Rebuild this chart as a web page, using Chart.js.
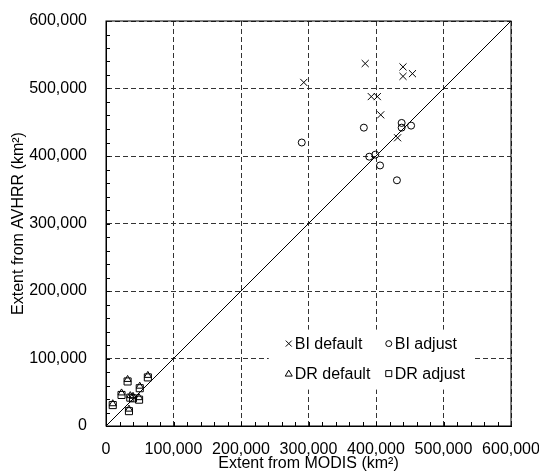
<!DOCTYPE html>
<html>
<head>
<meta charset="utf-8">
<script src="https://cdn.jsdelivr.net/npm/chart.js@4"></script>
<style>
  html, body { margin: 0; padding: 0; background: #fff; }
  #wrap { width: 539px; height: 472px; }
</style>
</head>
<body>
<div id="wrap"><canvas id="chart" width="539" height="472"></canvas></div>
<script>
// ==================== DATA ====================
const biDefaultX = [384000, 440000, 440000, 454000, 293000, 393000, 402000, 407000, 432000];
const biDefaultY = [537000, 532000, 518000, 522000, 509000, 488000, 488000, 461000, 427000];

const biAdjustX = [382000, 290000, 438000, 438000, 452000, 390000, 399000, 406000, 431000];
const biAdjustY = [442000, 420000, 449000, 442000, 445000, 399000, 402000, 386000, 364000];

const drDefaultX = [10000, 32000, 23000, 62000, 50000, 36000, 40000, 49000, 34000];
const drDefaultY = [33000, 69000, 49000, 75000, 59000, 45000, 44000, 42000, 25000];

const drAdjustX = [10000, 32000, 23000, 62000, 50000, 36000, 40000, 49000, 34000];
const drAdjustY = [31000, 66000, 46000, 72000, 56000, 42000, 41000, 39000, 22000];

const oneToOne = [0, 600000];
const axisTicks = [0, 100000, 200000, 300000, 400000, 500000, 600000];

const seriesNames = ["BI default", "BI adjust", "DR default", "DR adjust"];

const FONT = "'Liberation Sans', Arial, sans-serif";

function pts(xs, ys) {
  return xs.map((x, i) => ({ x: x, y: ys[i] }));
}

// ==================== PLUGINS ====================
// box around the plot + inward minor ticks on left and bottom
const frame = {
  id: "frame",
  afterDraw(chart) {
    const { ctx, chartArea: a, scales } = chart;
    ctx.save();
    ctx.strokeStyle = "#000";
    ctx.lineWidth = 1;
    ctx.strokeRect(a.left, a.top, a.right - a.left, a.bottom - a.top);
    ctx.beginPath();
    for (let v = 20000; v < 600000; v += 20000) {
      const px = Math.round(scales.x.getPixelForValue(v)) + 0.5;
      ctx.moveTo(px, a.bottom);
      ctx.lineTo(px, a.bottom - 4);
      const py = Math.round(scales.y.getPixelForValue(v)) + 0.5;
      ctx.moveTo(a.left, py);
      ctx.lineTo(a.left + 4, py);
    }
    ctx.stroke();
    ctx.restore();
  }
};

// legend inside the plot, 2 x 2
const insideLegend = {
  id: "insideLegend",
  afterDatasetsDraw(chart) {
    const { ctx, scales } = chart;
    const x0 = scales.x.getPixelForValue(250000);
    const y0 = scales.y.getPixelForValue(128000);
    ctx.save();
    ctx.fillStyle = "#fff";
    ctx.fillRect(x0 - 6, y0 - 10, 206, 60);
    ctx.strokeStyle = "#000";
    ctx.fillStyle = "#000";
    ctx.lineWidth = 1;
    ctx.font = "16px " + FONT;
    ctx.textBaseline = "middle";
    const cols = [x0 + 14, x0 + 114];
    const rows = [y0 + 4, y0 + 34];
    const cells = [[0, 0], [1, 0], [0, 1], [1, 1]];
    cells.forEach(([c, r], i) => {
      const mx = cols[c], my = rows[r];
      ctx.beginPath();
      if (i === 0) {
        ctx.moveTo(mx - 3, my - 3); ctx.lineTo(mx + 3, my + 3);
        ctx.moveTo(mx + 3, my - 3); ctx.lineTo(mx - 3, my + 3);
      } else if (i === 1) {
        ctx.arc(mx, my, 3, 0, Math.PI * 2);
      } else if (i === 2) {
        ctx.moveTo(mx, my - 3.5); ctx.lineTo(mx + 3.5, my + 2.5); ctx.lineTo(mx - 3.5, my + 2.5); ctx.closePath();
      } else {
        ctx.rect(mx - 3, my - 3, 6, 6);
      }
      ctx.stroke();
      ctx.fillText(seriesNames[i], mx + 6, my + 1);
    });
    ctx.restore();
  }
};

// ==================== CHART ====================
Chart.defaults.color = "#000";
Chart.defaults.font.family = FONT;
Chart.defaults.font.size = 16;

const tickFmt = v => Number(v).toLocaleString("en-US");

new Chart(document.getElementById("chart"), {
  type: "scatter",
  data: {
    datasets: [
      {
        type: "line",
        label: "1:1",
        data: pts(oneToOne, oneToOne),
        borderColor: "#000",
        borderWidth: 1,
        pointRadius: 0,
        fill: false
      },
      {
        label: seriesNames[0],
        data: pts(biDefaultX, biDefaultY),
        pointStyle: "crossRot",
        pointRadius: 5,
        borderColor: "#000",
        borderWidth: 1
      },
      {
        label: seriesNames[1],
        data: pts(biAdjustX, biAdjustY),
        pointStyle: "circle",
        pointRadius: 3.5,
        borderColor: "#000",
        backgroundColor: "rgba(0,0,0,0)",
        borderWidth: 1
      },
      {
        label: seriesNames[3],
        data: pts(drAdjustX, drAdjustY),
        pointStyle: "rect",
        pointRadius: 5,
        borderColor: "#000",
        backgroundColor: "rgba(0,0,0,0)",
        borderWidth: 1
      },
      {
        label: seriesNames[2],
        data: pts(drDefaultX, drDefaultY),
        pointStyle: "triangle",
        pointRadius: 4,
        borderColor: "#000",
        backgroundColor: "rgba(0,0,0,0)",
        borderWidth: 1
      }
    ]
  },
  options: {
    responsive: false,
    animation: false,
    layout: { padding: { left: 0, right: 28, top: 21, bottom: 0 } },
    plugins: { legend: { display: false }, tooltip: { enabled: false } },
    scales: {
      x: {
        type: "linear",
        min: 0, max: 600000,
        afterBuildTicks: s => { s.ticks = axisTicks.map(v => ({ value: v })); },
        afterFit: s => { s.height = 46; s.paddingLeft = 0; s.paddingRight = 0; },
        ticks: { callback: tickFmt, padding: 14, maxRotation: 0, autoSkip: false },
        grid: { color: "#333", lineWidth: 1, drawTicks: false },
        border: { display: true, color: "#000", dash: [5, 3] },
        title: {
          display: true,
          text: "Extent from MODIS (km²)",
          font: { size: 16 },
          padding: { top: 0, bottom: -1 }
        }
      },
      y: {
        type: "linear",
        min: 0, max: 600000,
        afterBuildTicks: s => { s.ticks = axisTicks.map(v => ({ value: v })); },
        afterFit: s => { s.width = 106; s.paddingTop = 0; s.paddingBottom = 0; },
        ticks: { callback: tickFmt, padding: 19 },
        grid: { color: "#333", lineWidth: 1, drawTicks: false },
        border: { display: true, color: "#000", dash: [5, 3] },
        title: {
          display: true,
          text: "Extent from AVHRR (km²)",
          font: { size: 16 },
          padding: { top: 9, bottom: 0 }
        }
      }
    }
  },
  plugins: [frame, insideLegend]
});
</script>
</body>
</html>
